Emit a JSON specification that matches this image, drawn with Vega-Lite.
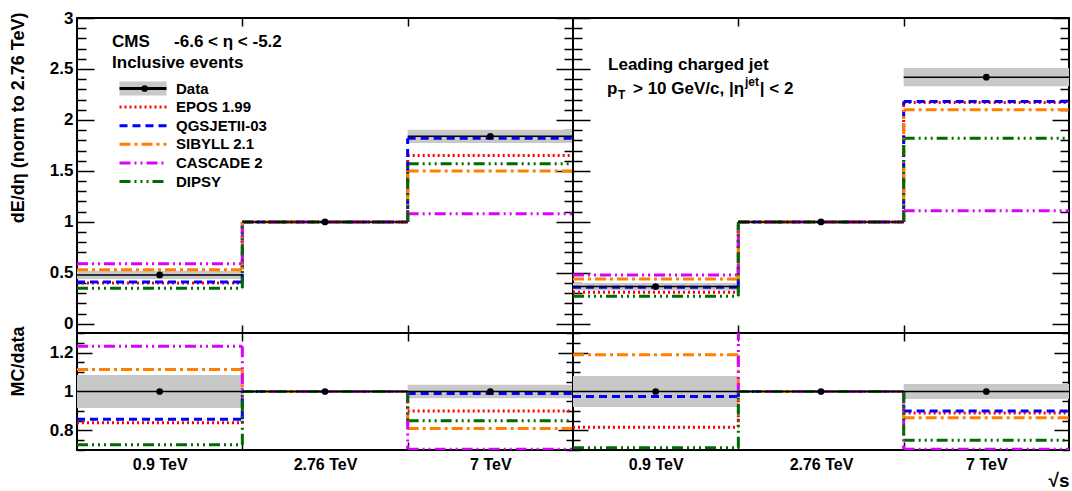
{
"$schema":"https://vega.github.io/schema/vega-lite/v6.json",
"padding":{"left":8,"top":8,"right":2,"bottom":0},
"bounds":"flush",
"spacing":0,
"columns":2,
"config":{
 "font":"Liberation Sans",
 "view":{"stroke":"black","strokeWidth":2},
 "axis":{"labelFont":"Liberation Sans","labelFontWeight":"bold","labelFontSize":17,"labelColor":"black","titleFont":"Liberation Sans","titleFontWeight":"bold","titleFontSize":18,"titleColor":"black","tickColor":"black","tickWidth":1.5,"domain":false,"grid":false,"labelFlush":false,"labelOverlap":false,"labelBound":false}
},
"resolve":{"scale":{"color":"independent","strokeDash":"independent","fill":"independent","shape":"independent"}},
"datasets":{
 "mc":[
  {"p":"incl","m":"EPOS 1.99","lo":0,"hi":1,"v":0.40,"r":0.84},
  {"p":"incl","m":"EPOS 1.99","lo":1,"hi":2,"v":1,"r":1},
  {"p":"incl","m":"EPOS 1.99","lo":2,"hi":3,"v":1.65,"r":0.90},
  {"p":"incl","m":"QGSJETII-03","lo":0,"hi":1,"v":0.41,"r":0.858},
  {"p":"incl","m":"QGSJETII-03","lo":1,"hi":2,"v":1,"r":1},
  {"p":"incl","m":"QGSJETII-03","lo":2,"hi":3,"v":1.82,"r":0.99},
  {"p":"incl","m":"SIBYLL 2.1","lo":0,"hi":1,"v":0.53,"r":1.113},
  {"p":"incl","m":"SIBYLL 2.1","lo":1,"hi":2,"v":1,"r":1},
  {"p":"incl","m":"SIBYLL 2.1","lo":2,"hi":3,"v":1.50,"r":0.81},
  {"p":"incl","m":"CASCADE 2","lo":0,"hi":1,"v":0.59,"r":1.232},
  {"p":"incl","m":"CASCADE 2","lo":1,"hi":2,"v":1,"r":1},
  {"p":"incl","m":"CASCADE 2","lo":2,"hi":3,"v":1.08,"r":0.704},
  {"p":"incl","m":"DIPSY","lo":0,"hi":1,"v":0.35,"r":0.727},
  {"p":"incl","m":"DIPSY","lo":1,"hi":2,"v":1,"r":1},
  {"p":"incl","m":"DIPSY","lo":2,"hi":3,"v":1.57,"r":0.85},
  {"p":"jet","m":"EPOS 1.99","lo":0,"hi":1,"v":0.31,"r":0.817},
  {"p":"jet","m":"EPOS 1.99","lo":1,"hi":2,"v":1,"r":1},
  {"p":"jet","m":"EPOS 1.99","lo":2,"hi":3,"v":2.17,"r":0.89},
  {"p":"jet","m":"QGSJETII-03","lo":0,"hi":1,"v":0.36,"r":0.974},
  {"p":"jet","m":"QGSJETII-03","lo":1,"hi":2,"v":1,"r":1},
  {"p":"jet","m":"QGSJETII-03","lo":2,"hi":3,"v":2.18,"r":0.90},
  {"p":"jet","m":"SIBYLL 2.1","lo":0,"hi":1,"v":0.44,"r":1.188},
  {"p":"jet","m":"SIBYLL 2.1","lo":1,"hi":2,"v":1,"r":1},
  {"p":"jet","m":"SIBYLL 2.1","lo":2,"hi":3,"v":2.10,"r":0.865},
  {"p":"jet","m":"CASCADE 2","lo":0,"hi":1,"v":0.48,"r":1.32},
  {"p":"jet","m":"CASCADE 2","lo":1,"hi":2,"v":1,"r":1},
  {"p":"jet","m":"CASCADE 2","lo":2,"hi":3,"v":1.11,"r":0.704},
  {"p":"jet","m":"DIPSY","lo":0,"hi":1,"v":0.27,"r":0.711},
  {"p":"jet","m":"DIPSY","lo":1,"hi":2,"v":1,"r":1},
  {"p":"jet","m":"DIPSY","lo":2,"hi":3,"v":1.82,"r":0.75}
 ],
 "obs":[
  {"p":"incl","src":"Data","lo":0,"hi":1,"mid":0.5,"v":0.48,"r":1},
  {"p":"incl","src":"Data","lo":1,"hi":2,"mid":1.5,"v":1,"r":1},
  {"p":"incl","src":"Data","lo":2,"hi":3,"mid":2.5,"v":1.84,"r":1},
  {"p":"jet","src":"Data","lo":0,"hi":1,"mid":0.5,"v":0.365,"r":1},
  {"p":"jet","src":"Data","lo":1,"hi":2,"mid":1.5,"v":1,"r":1},
  {"p":"jet","src":"Data","lo":2,"hi":3,"mid":2.5,"v":2.42,"r":1}
 ],
 "band":[
  {"p":"incl","kind":"Data uncertainty","lo":0,"hi":1,"ylo":0.44,"yhi":0.52,"rlo":0.915,"rhi":1.085},
  {"p":"incl","kind":"Data uncertainty","lo":2,"hi":3,"ylo":1.775,"yhi":1.905,"rlo":0.965,"rhi":1.035},
  {"p":"jet","kind":"Data uncertainty","lo":0,"hi":1,"ylo":0.33,"yhi":0.40,"rlo":0.92,"rhi":1.08},
  {"p":"jet","kind":"Data uncertainty","lo":2,"hi":3,"ylo":2.33,"yhi":2.51,"rlo":0.962,"rhi":1.038}
 ]
},
"concat":[
 {
  "width":496,"height":315,
  "resolve":{"axis":{"x":"independent","y":"independent"}},
  "layer":[
   {"data":{"name":"band"},"transform":[{"filter":"datum.p=='incl'"}],
    "mark":{"type":"rect"},
    "encoding":{
     "x":{"field":"lo","type":"quantitative","scale":{"domain":[0,3],"nice":false,"zero":false},"axis":{"orient":"bottom","values":[1,2],"labels":false,"tickSize":-8,"title":null}},
     "x2":{"field":"hi"},
     "y":{"field":"ylo","type":"quantitative","scale":{"domain":[-0.09,3],"nice":false,"zero":false},"axis":{"orient":"left","values":[0,0.1,0.2,0.3,0.4,0.5,0.6,0.7,0.8,0.9,1,1.1,1.2,1.3,1.4,1.5,1.6,1.7,1.8,1.9,2,2.1,2.2,2.3,2.4,2.5,2.6,2.7,2.8,2.9,3],"tickSize":{"condition":{"test":"abs(datum.value*2-round(datum.value*2))<0.001","value":-17},"value":-9},"labelExpr":"abs(datum.value*2-round(datum.value*2))<0.001 ? toString(round(datum.value*10)/10) : ''","labelPadding":21,"title":"dE/dη (norm to 2.76 TeV)","titleAnchor":"end","titleY":-6,"titlePadding":22}},
     "y2":{"field":"yhi"},
     "fill":{"field":"kind","type":"nominal","scale":{"domain":["Data uncertainty"],"range":["#c8c8c8"]},"legend":{"orient":"none","legendX":58.5,"legendY":63,"title":null,"symbolType":"M-4.7,-1.4H4.7V1.4H-4.7Z","symbolSize":100,"symbolStrokeWidth":0,"labelOffset":25.5,"labelFontSize":15,"labelFont":"Liberation Sans","labelFontWeight":"bold","labelExpr":"''","padding":0,"zindex":1}}
    }},
   {"data":{"name":"mc"},"transform":[{"filter":"datum.p=='incl'"}],
    "mark":{"type":"rule","strokeWidth":3,"clip":true},
    "encoding":{
     "x":{"field":"lo","type":"quantitative","scale":{"domain":[0,3],"nice":false,"zero":false},"axis":null},
     "x2":{"field":"hi"},
     "y":{"field":"v","type":"quantitative","scale":{"domain":[-0.09,3],"nice":false,"zero":false},"axis":null},
     "color":{"field":"m","type":"nominal","scale":{"domain":["Data","EPOS 1.99","QGSJETII-03","SIBYLL 2.1","CASCADE 2","DIPSY"],"range":["#000000","#ff0000","#0000ff","#ff7f00","#dd00ff","#006b00"]},"legend":{"orient":"none","legendX":58.5,"legendY":63,"title":null,"symbolType":"M-4.7,0H4.7","symbolSize":100,"symbolStrokeWidth":3,"labelOffset":25.5,"rowPadding":2.6,"labelFontSize":15,"labelFont":"Liberation Sans","labelFontWeight":"bold","labelColor":"black","padding":0,"zindex":2}},
     "strokeDash":{"field":"m","type":"nominal","scale":{"domain":["Data","EPOS 1.99","QGSJETII-03","SIBYLL 2.1","CASCADE 2","DIPSY"],"range":[[1,0],[2,3],[8,5],[11,4,3,4],[11,4,2,4,2,4],[11,4,2,4,2,4,2,4]]},"legend":{"orient":"none","legendX":58.5,"legendY":63,"title":null,"symbolType":"M-4.7,0H4.7","symbolSize":100,"symbolStrokeWidth":3,"labelOffset":25.5,"rowPadding":2.6,"labelFontSize":15,"labelFont":"Liberation Sans","labelFontWeight":"bold","labelColor":"black","padding":0,"zindex":2}}
    }},
   {"data":{"name":"mc"},"transform":[{"filter":"datum.p=='incl'"},{"window":[{"op":"lag","field":"v","as":"pv"}],"groupby":["m"],"sort":[{"field":"lo"}]},{"filter":"datum.pv != null"}],
    "mark":{"type":"rule","strokeWidth":3,"clip":true},
    "encoding":{
     "x":{"field":"lo","type":"quantitative","scale":{"domain":[0,3],"nice":false,"zero":false},"axis":null},
     "y":{"field":"pv","type":"quantitative","scale":{"domain":[-0.09,3],"nice":false,"zero":false},"axis":null},
     "y2":{"field":"v"},
     "color":{"field":"m","type":"nominal","scale":{"domain":["Data","EPOS 1.99","QGSJETII-03","SIBYLL 2.1","CASCADE 2","DIPSY"],"range":["#000000","#ff0000","#0000ff","#ff7f00","#dd00ff","#006b00"]},"legend":null},
     "strokeDash":{"field":"m","type":"nominal","scale":{"domain":["Data","EPOS 1.99","QGSJETII-03","SIBYLL 2.1","CASCADE 2","DIPSY"],"range":[[1,0],[2,3],[8,5],[11,4,3,4],[11,4,2,4,2,4],[11,4,2,4,2,4,2,4]]},"legend":null}
    }},
   {"data":{"name":"obs"},"transform":[{"filter":"datum.p=='incl'"}],
    "mark":{"type":"rule","color":"black","strokeWidth":1.5},
    "encoding":{
     "x":{"field":"lo","type":"quantitative","scale":{"domain":[0,3],"nice":false,"zero":false},"axis":{"orient":"top","values":[1,2],"labels":false,"tickSize":-8,"title":null}},
     "x2":{"field":"hi"},
     "y":{"field":"v","type":"quantitative","scale":{"domain":[-0.09,3],"nice":false,"zero":false},"axis":{"orient":"right","values":[0,0.1,0.2,0.3,0.4,0.5,0.6,0.7,0.8,0.9,1,1.1,1.2,1.3,1.4,1.5,1.6,1.7,1.8,1.9,2,2.1,2.2,2.3,2.4,2.5,2.6,2.7,2.8,2.9,3],"tickSize":{"condition":{"test":"abs(datum.value*2-round(datum.value*2))<0.001","value":-17},"value":-9},"labels":false,"title":null}}
    }},
   {"data":{"name":"obs"},"transform":[{"filter":"datum.p=='incl'"}],
    "mark":{"type":"point","filled":true,"color":"black","size":45,"opacity":1},
    "encoding":{
     "x":{"field":"mid","type":"quantitative","scale":{"domain":[0,3],"nice":false,"zero":false},"axis":null},
     "y":{"field":"v","type":"quantitative","scale":{"domain":[-0.09,3],"nice":false,"zero":false},"axis":null},
     "shape":{"field":"src","type":"nominal","scale":{"domain":["Data"],"range":["circle"]},"legend":{"orient":"none","legendX":60.15,"legendY":63,"title":null,"symbolSize":45,"symbolFillColor":"black","symbolStrokeColor":"black","symbolOpacity":1,"labelOffset":28.8,"labelFontSize":15,"labelFont":"Liberation Sans","labelFontWeight":"bold","labelExpr":"''","padding":0,"zindex":3}}
    }},
   {"data":{"values":[{}]},"mark":{"type":"text","text":"CMS","align":"left","baseline":"middle","fontSize":17,"fontWeight":"bold","font":"Liberation Sans","color":"black"},
    "encoding":{"x":{"datum":0.212,"type":"quantitative","scale":{"domain":[0,3],"nice":false,"zero":false},"axis":null},"y":{"datum":2.765,"type":"quantitative","scale":{"domain":[-0.09,3],"nice":false,"zero":false},"axis":null}}},
   {"data":{"values":[{}]},"mark":{"type":"text","text":"-6.6 < η < -5.2","align":"left","baseline":"middle","fontSize":17,"fontWeight":"bold","font":"Liberation Sans","color":"black"},
    "encoding":{"x":{"datum":0.587,"type":"quantitative","scale":{"domain":[0,3],"nice":false,"zero":false},"axis":null},"y":{"datum":2.765,"type":"quantitative","scale":{"domain":[-0.09,3],"nice":false,"zero":false},"axis":null}}},
   {"data":{"values":[{}]},"mark":{"type":"text","text":"Inclusive events","align":"left","baseline":"middle","fontSize":17,"fontWeight":"bold","font":"Liberation Sans","color":"black"},
    "encoding":{"x":{"datum":0.212,"type":"quantitative","scale":{"domain":[0,3],"nice":false,"zero":false},"axis":null},"y":{"datum":2.555,"type":"quantitative","scale":{"domain":[-0.09,3],"nice":false,"zero":false},"axis":null}}}
  ]
 },
 {
  "width":496,"height":315,
  "resolve":{"axis":{"x":"independent","y":"independent"}},
  "layer":[
   {"data":{"name":"band"},"transform":[{"filter":"datum.p=='jet'"}],
    "mark":{"type":"rect","fill":"#c8c8c8"},
    "encoding":{
     "x":{"field":"lo","type":"quantitative","scale":{"domain":[0,3],"nice":false,"zero":false},"axis":{"orient":"bottom","values":[1,2],"labels":false,"tickSize":-8,"title":null}},
     "x2":{"field":"hi"},
     "y":{"field":"ylo","type":"quantitative","scale":{"domain":[-0.09,3],"nice":false,"zero":false},"axis":{"orient":"left","values":[0,0.1,0.2,0.3,0.4,0.5,0.6,0.7,0.8,0.9,1,1.1,1.2,1.3,1.4,1.5,1.6,1.7,1.8,1.9,2,2.1,2.2,2.3,2.4,2.5,2.6,2.7,2.8,2.9,3],"tickSize":{"condition":{"test":"abs(datum.value*2-round(datum.value*2))<0.001","value":-17},"value":-9},"labels":false,"title":null}},
     "y2":{"field":"yhi"}
    }},
   {"data":{"name":"mc"},"transform":[{"filter":"datum.p=='jet'"}],
    "mark":{"type":"rule","strokeWidth":3,"clip":true},
    "encoding":{
     "x":{"field":"lo","type":"quantitative","scale":{"domain":[0,3],"nice":false,"zero":false},"axis":null},
     "x2":{"field":"hi"},
     "y":{"field":"v","type":"quantitative","scale":{"domain":[-0.09,3],"nice":false,"zero":false},"axis":null},
     "color":{"field":"m","type":"nominal","scale":{"domain":["Data","EPOS 1.99","QGSJETII-03","SIBYLL 2.1","CASCADE 2","DIPSY"],"range":["#000000","#ff0000","#0000ff","#ff7f00","#dd00ff","#006b00"]},"legend":null},
     "strokeDash":{"field":"m","type":"nominal","scale":{"domain":["Data","EPOS 1.99","QGSJETII-03","SIBYLL 2.1","CASCADE 2","DIPSY"],"range":[[1,0],[2,3],[8,5],[11,4,3,4],[11,4,2,4,2,4],[11,4,2,4,2,4,2,4]]},"legend":null}
    }},
   {"data":{"name":"mc"},"transform":[{"filter":"datum.p=='jet'"},{"window":[{"op":"lag","field":"v","as":"pv"}],"groupby":["m"],"sort":[{"field":"lo"}]},{"filter":"datum.pv != null"}],
    "mark":{"type":"rule","strokeWidth":3,"clip":true},
    "encoding":{
     "x":{"field":"lo","type":"quantitative","scale":{"domain":[0,3],"nice":false,"zero":false},"axis":null},
     "y":{"field":"pv","type":"quantitative","scale":{"domain":[-0.09,3],"nice":false,"zero":false},"axis":null},
     "y2":{"field":"v"},
     "color":{"field":"m","type":"nominal","scale":{"domain":["Data","EPOS 1.99","QGSJETII-03","SIBYLL 2.1","CASCADE 2","DIPSY"],"range":["#000000","#ff0000","#0000ff","#ff7f00","#dd00ff","#006b00"]},"legend":null},
     "strokeDash":{"field":"m","type":"nominal","scale":{"domain":["Data","EPOS 1.99","QGSJETII-03","SIBYLL 2.1","CASCADE 2","DIPSY"],"range":[[1,0],[2,3],[8,5],[11,4,3,4],[11,4,2,4,2,4],[11,4,2,4,2,4,2,4]]},"legend":null}
    }},
   {"data":{"name":"obs"},"transform":[{"filter":"datum.p=='jet'"}],
    "mark":{"type":"rule","color":"black","strokeWidth":1.5},
    "encoding":{
     "x":{"field":"lo","type":"quantitative","scale":{"domain":[0,3],"nice":false,"zero":false},"axis":{"orient":"top","values":[1,2],"labels":false,"tickSize":-8,"title":null}},
     "x2":{"field":"hi"},
     "y":{"field":"v","type":"quantitative","scale":{"domain":[-0.09,3],"nice":false,"zero":false},"axis":{"orient":"right","values":[0,0.1,0.2,0.3,0.4,0.5,0.6,0.7,0.8,0.9,1,1.1,1.2,1.3,1.4,1.5,1.6,1.7,1.8,1.9,2,2.1,2.2,2.3,2.4,2.5,2.6,2.7,2.8,2.9,3],"tickSize":{"condition":{"test":"abs(datum.value*2-round(datum.value*2))<0.001","value":-17},"value":-9},"labels":false,"title":null}}
    }},
   {"data":{"name":"obs"},"transform":[{"filter":"datum.p=='jet'"}],
    "mark":{"type":"point","filled":true,"color":"black","size":45,"opacity":1},
    "encoding":{
     "x":{"field":"mid","type":"quantitative","scale":{"domain":[0,3],"nice":false,"zero":false},"axis":null},
     "y":{"field":"v","type":"quantitative","scale":{"domain":[-0.09,3],"nice":false,"zero":false},"axis":null}
    }},
   {"data":{"values":[{}]},"mark":{"type":"text","text":"Leading charged jet","align":"left","baseline":"middle","fontSize":17,"fontWeight":"bold","font":"Liberation Sans","color":"black"},
    "encoding":{"x":{"datum":0.212,"type":"quantitative","scale":{"domain":[0,3],"nice":false,"zero":false},"axis":null},"y":{"datum":2.535,"type":"quantitative","scale":{"domain":[-0.09,3],"nice":false,"zero":false},"axis":null}}},
   {"data":{"values":[{}]},"mark":{"type":"text","text":"p","align":"left","baseline":"middle","fontSize":17,"fontWeight":"bold","font":"Liberation Sans","color":"black"},
    "encoding":{"x":{"datum":0.2056,"type":"quantitative","scale":{"domain":[0,3],"nice":false,"zero":false},"axis":null},"y":{"datum":2.30,"type":"quantitative","scale":{"domain":[-0.09,3],"nice":false,"zero":false},"axis":null}}},
   {"data":{"values":[{}]},"mark":{"type":"text","text":"T","align":"left","baseline":"middle","fontSize":12,"fontWeight":"bold","font":"Liberation Sans","color":"black"},
    "encoding":{"x":{"datum":0.272,"type":"quantitative","scale":{"domain":[0,3],"nice":false,"zero":false},"axis":null},"y":{"datum":2.24,"type":"quantitative","scale":{"domain":[-0.09,3],"nice":false,"zero":false},"axis":null}}},
   {"data":{"values":[{}]},"mark":{"type":"text","text":"> 10 GeV/c, |η","align":"left","baseline":"middle","fontSize":17,"fontWeight":"bold","font":"Liberation Sans","color":"black"},
    "encoding":{"x":{"datum":0.363,"type":"quantitative","scale":{"domain":[0,3],"nice":false,"zero":false},"axis":null},"y":{"datum":2.30,"type":"quantitative","scale":{"domain":[-0.09,3],"nice":false,"zero":false},"axis":null}}},
   {"data":{"values":[{}]},"mark":{"type":"text","text":"jet","align":"left","baseline":"middle","fontSize":12,"fontWeight":"bold","font":"Liberation Sans","color":"black"},
    "encoding":{"x":{"datum":1.04,"type":"quantitative","scale":{"domain":[0,3],"nice":false,"zero":false},"axis":null},"y":{"datum":2.37,"type":"quantitative","scale":{"domain":[-0.09,3],"nice":false,"zero":false},"axis":null}}},
   {"data":{"values":[{}]},"mark":{"type":"text","text":"| < 2","align":"left","baseline":"middle","fontSize":17,"fontWeight":"bold","font":"Liberation Sans","color":"black"},
    "encoding":{"x":{"datum":1.13,"type":"quantitative","scale":{"domain":[0,3],"nice":false,"zero":false},"axis":null},"y":{"datum":2.30,"type":"quantitative","scale":{"domain":[-0.09,3],"nice":false,"zero":false},"axis":null}}}
  ]
 },
 {
  "width":496,"height":117,
  "resolve":{"axis":{"x":"independent","y":"independent"}},
  "layer":[
   {"data":{"name":"band"},"transform":[{"filter":"datum.p=='incl'"}],
    "mark":{"type":"rect","fill":"#c8c8c8"},
    "encoding":{
     "x":{"field":"lo","type":"quantitative","scale":{"domain":[0,3],"nice":false,"zero":false},"axis":{"orient":"bottom","values":[0.5,1,1.5,2,2.5],"tickSize":-8,"tickOpacity":{"condition":{"test":"datum.value % 1 != 0","value":0},"value":1},"labelExpr":"datum.value==0.5 ? '0.9 TeV' : datum.value==1.5 ? '2.76 TeV' : datum.value==2.5 ? '7 TeV' : ''","labelPadding":14,"labelFontSize":16,"title":null}},
     "x2":{"field":"hi"},
     "y":{"field":"rlo","type":"quantitative","scale":{"domain":[0.7,1.3],"nice":false,"zero":false},"axis":{"orient":"left","values":[0.7,0.75,0.8,0.85,0.9,0.95,1,1.05,1.1,1.15,1.2,1.25,1.3],"tickSize":{"condition":{"test":"abs(datum.value*5-round(datum.value*5))<0.001","value":-15},"value":-7},"labelExpr":"abs(datum.value*5-round(datum.value*5))<0.001 ? toString(round(datum.value*10)/10) : ''","labelPadding":19,"title":"MC/data","titleAnchor":"end","titleY":-7,"titlePadding":22}},
     "y2":{"field":"rhi"}
    }},
   {"data":{"name":"mc"},"transform":[{"filter":"datum.p=='incl'"}],
    "mark":{"type":"rule","strokeWidth":3,"clip":true},
    "encoding":{
     "x":{"field":"lo","type":"quantitative","scale":{"domain":[0,3],"nice":false,"zero":false},"axis":null},
     "x2":{"field":"hi"},
     "y":{"field":"r","type":"quantitative","scale":{"domain":[0.7,1.3],"nice":false,"zero":false},"axis":null},
     "color":{"field":"m","type":"nominal","scale":{"domain":["Data","EPOS 1.99","QGSJETII-03","SIBYLL 2.1","CASCADE 2","DIPSY"],"range":["#000000","#ff0000","#0000ff","#ff7f00","#dd00ff","#006b00"]},"legend":null},
     "strokeDash":{"field":"m","type":"nominal","scale":{"domain":["Data","EPOS 1.99","QGSJETII-03","SIBYLL 2.1","CASCADE 2","DIPSY"],"range":[[1,0],[2,3],[8,5],[11,4,3,4],[11,4,2,4,2,4],[11,4,2,4,2,4,2,4]]},"legend":null}
    }},
   {"data":{"name":"mc"},"transform":[{"filter":"datum.p=='incl'"},{"window":[{"op":"lag","field":"r","as":"pr"}],"groupby":["m"],"sort":[{"field":"lo"}]},{"filter":"datum.pr != null"}],
    "mark":{"type":"rule","strokeWidth":3,"clip":true},
    "encoding":{
     "x":{"field":"lo","type":"quantitative","scale":{"domain":[0,3],"nice":false,"zero":false},"axis":null},
     "y":{"field":"pr","type":"quantitative","scale":{"domain":[0.7,1.3],"nice":false,"zero":false},"axis":null},
     "y2":{"field":"r"},
     "color":{"field":"m","type":"nominal","scale":{"domain":["Data","EPOS 1.99","QGSJETII-03","SIBYLL 2.1","CASCADE 2","DIPSY"],"range":["#000000","#ff0000","#0000ff","#ff7f00","#dd00ff","#006b00"]},"legend":null},
     "strokeDash":{"field":"m","type":"nominal","scale":{"domain":["Data","EPOS 1.99","QGSJETII-03","SIBYLL 2.1","CASCADE 2","DIPSY"],"range":[[1,0],[2,3],[8,5],[11,4,3,4],[11,4,2,4,2,4],[11,4,2,4,2,4,2,4]]},"legend":null}
    }},
   {"data":{"name":"obs"},"transform":[{"filter":"datum.p=='incl'"}],
    "mark":{"type":"rule","color":"black","strokeWidth":1.5},
    "encoding":{
     "x":{"field":"lo","type":"quantitative","scale":{"domain":[0,3],"nice":false,"zero":false},"axis":{"orient":"top","values":[1,2],"labels":false,"tickSize":-8,"title":null}},
     "x2":{"field":"hi"},
     "y":{"field":"r","type":"quantitative","scale":{"domain":[0.7,1.3],"nice":false,"zero":false},"axis":{"orient":"right","values":[0.7,0.75,0.8,0.85,0.9,0.95,1,1.05,1.1,1.15,1.2,1.25,1.3],"tickSize":{"condition":{"test":"abs(datum.value*5-round(datum.value*5))<0.001","value":-15},"value":-7},"labels":false,"title":null}}
    }},
   {"data":{"name":"obs"},"transform":[{"filter":"datum.p=='incl'"}],
    "mark":{"type":"point","filled":true,"color":"black","size":45,"opacity":1},
    "encoding":{
     "x":{"field":"mid","type":"quantitative","scale":{"domain":[0,3],"nice":false,"zero":false},"axis":null},
     "y":{"field":"r","type":"quantitative","scale":{"domain":[0.7,1.3],"nice":false,"zero":false},"axis":null}
    }}
  ]
 },
 {
  "width":496,"height":117,
  "resolve":{"axis":{"x":"independent","y":"independent"}},
  "layer":[
   {"data":{"name":"band"},"transform":[{"filter":"datum.p=='jet'"}],
    "mark":{"type":"rect","fill":"#c8c8c8"},
    "encoding":{
     "x":{"field":"lo","type":"quantitative","scale":{"domain":[0,3],"nice":false,"zero":false},"axis":{"orient":"bottom","values":[0.5,1,1.5,2,2.5],"tickSize":-8,"tickOpacity":{"condition":{"test":"datum.value % 1 != 0","value":0},"value":1},"labelExpr":"datum.value==0.5 ? '0.9 TeV' : datum.value==1.5 ? '2.76 TeV' : datum.value==2.5 ? '7 TeV' : ''","labelPadding":14,"labelFontSize":16,"title":"√s","titleAnchor":"end","titleFontSize":19,"titleY":36,"titleBaseline":"alphabetic"}},
     "x2":{"field":"hi"},
     "y":{"field":"rlo","type":"quantitative","scale":{"domain":[0.7,1.3],"nice":false,"zero":false},"axis":{"orient":"left","values":[0.7,0.75,0.8,0.85,0.9,0.95,1,1.05,1.1,1.15,1.2,1.25,1.3],"tickSize":{"condition":{"test":"abs(datum.value*5-round(datum.value*5))<0.001","value":-15},"value":-7},"labels":false,"title":null}},
     "y2":{"field":"rhi"}
    }},
   {"data":{"name":"mc"},"transform":[{"filter":"datum.p=='jet'"}],
    "mark":{"type":"rule","strokeWidth":3,"clip":true},
    "encoding":{
     "x":{"field":"lo","type":"quantitative","scale":{"domain":[0,3],"nice":false,"zero":false},"axis":null},
     "x2":{"field":"hi"},
     "y":{"field":"r","type":"quantitative","scale":{"domain":[0.7,1.3],"nice":false,"zero":false},"axis":null},
     "color":{"field":"m","type":"nominal","scale":{"domain":["Data","EPOS 1.99","QGSJETII-03","SIBYLL 2.1","CASCADE 2","DIPSY"],"range":["#000000","#ff0000","#0000ff","#ff7f00","#dd00ff","#006b00"]},"legend":null},
     "strokeDash":{"field":"m","type":"nominal","scale":{"domain":["Data","EPOS 1.99","QGSJETII-03","SIBYLL 2.1","CASCADE 2","DIPSY"],"range":[[1,0],[2,3],[8,5],[11,4,3,4],[11,4,2,4,2,4],[11,4,2,4,2,4,2,4]]},"legend":null}
    }},
   {"data":{"name":"mc"},"transform":[{"filter":"datum.p=='jet'"},{"window":[{"op":"lag","field":"r","as":"pr"}],"groupby":["m"],"sort":[{"field":"lo"}]},{"filter":"datum.pr != null"}],
    "mark":{"type":"rule","strokeWidth":3,"clip":true},
    "encoding":{
     "x":{"field":"lo","type":"quantitative","scale":{"domain":[0,3],"nice":false,"zero":false},"axis":null},
     "y":{"field":"pr","type":"quantitative","scale":{"domain":[0.7,1.3],"nice":false,"zero":false},"axis":null},
     "y2":{"field":"r"},
     "color":{"field":"m","type":"nominal","scale":{"domain":["Data","EPOS 1.99","QGSJETII-03","SIBYLL 2.1","CASCADE 2","DIPSY"],"range":["#000000","#ff0000","#0000ff","#ff7f00","#dd00ff","#006b00"]},"legend":null},
     "strokeDash":{"field":"m","type":"nominal","scale":{"domain":["Data","EPOS 1.99","QGSJETII-03","SIBYLL 2.1","CASCADE 2","DIPSY"],"range":[[1,0],[2,3],[8,5],[11,4,3,4],[11,4,2,4,2,4],[11,4,2,4,2,4,2,4]]},"legend":null}
    }},
   {"data":{"name":"obs"},"transform":[{"filter":"datum.p=='jet'"}],
    "mark":{"type":"rule","color":"black","strokeWidth":1.5},
    "encoding":{
     "x":{"field":"lo","type":"quantitative","scale":{"domain":[0,3],"nice":false,"zero":false},"axis":{"orient":"top","values":[1,2],"labels":false,"tickSize":-8,"title":null}},
     "x2":{"field":"hi"},
     "y":{"field":"r","type":"quantitative","scale":{"domain":[0.7,1.3],"nice":false,"zero":false},"axis":{"orient":"right","values":[0.7,0.75,0.8,0.85,0.9,0.95,1,1.05,1.1,1.15,1.2,1.25,1.3],"tickSize":{"condition":{"test":"abs(datum.value*5-round(datum.value*5))<0.001","value":-15},"value":-7},"labels":false,"title":null}}
    }},
   {"data":{"name":"obs"},"transform":[{"filter":"datum.p=='jet'"}],
    "mark":{"type":"point","filled":true,"color":"black","size":45,"opacity":1},
    "encoding":{
     "x":{"field":"mid","type":"quantitative","scale":{"domain":[0,3],"nice":false,"zero":false},"axis":null},
     "y":{"field":"r","type":"quantitative","scale":{"domain":[0.7,1.3],"nice":false,"zero":false},"axis":null}
    }}
  ]
 }
]
}
